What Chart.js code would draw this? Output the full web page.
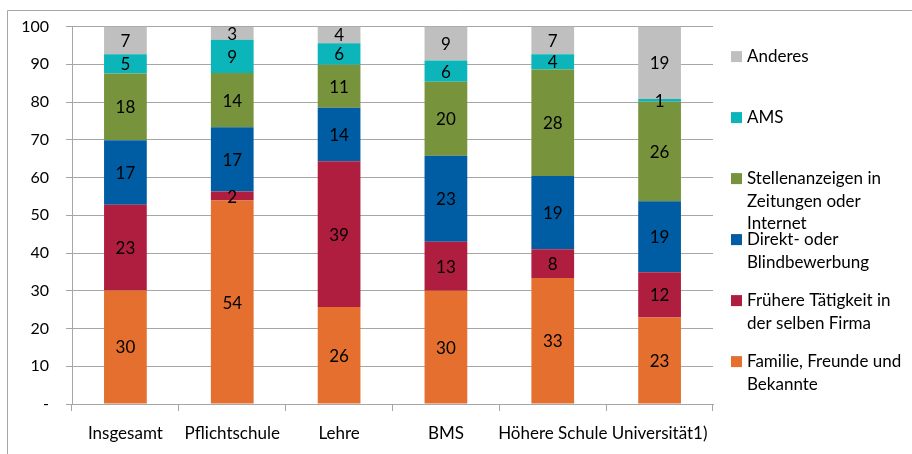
<!DOCTYPE html>
<html>
<head>
<meta charset="utf-8">
<script src="https://cdn.jsdelivr.net/npm/chart.js@4.4.0/dist/chart.umd.min.js"></script>
<style>
  html, body { margin: 0; padding: 0; background: #fff; }
  #wrap { position: relative; width: 912px; height: 454px; }
</style>
</head>
<body>
<div id="wrap"><canvas id="chart" width="912" height="454"></canvas></div>
<script>
// Data (%)
const categories = ['Insgesamt', 'Pflichtschule', 'Lehre', 'BMS', 'Höhere Schule', 'Universität1)'];
const familie   = [30.1, 53.9, 25.7, 30.0, 33.4, 22.9];
const frueher   = [22.7,  2.4, 38.6, 13.0,  7.6, 12.0];
const direkt    = [17.1, 17.0, 14.2, 22.8, 19.4, 18.8];
const stellen   = [17.7, 14.4, 11.4, 19.6, 28.2, 26.4];
const ams       = [ 5.1,  8.8,  5.7,  5.6,  4.1,  0.7];
const anderes   = [ 7.3,  3.4,  4.4,  9.0,  7.3, 19.2];
const yTicks    = [0, 10, 20, 30, 40, 50, 60, 70, 80, 90, 100];

const series = [
  { label: 'Familie, Freunde und Bekannte', lines: ['Familie, Freunde und', 'Bekannte'], data: familie, color: '#E46F2E' },
  { label: 'Frühere Tätigkeit in der selben Firma', lines: ['Frühere Tätigkeit in', 'der selben Firma'], data: frueher, color: '#B01E3F' },
  { label: 'Direkt- oder Blindbewerbung', lines: ['Direkt- oder', 'Blindbewerbung'], data: direkt, color: '#005DA3' },
  { label: 'Stellenanzeigen in Zeitungen oder Internet', lines: ['Stellenanzeigen in', 'Zeitungen oder', 'Internet'], data: stellen, color: '#77933C' },
  { label: 'AMS', lines: ['AMS'], data: ams, color: '#0BB5BA' },
  { label: 'Anderes', lines: ['Anderes'], data: anderes, color: '#BFBFBF' }
];

const FONT = 'Lato, "Open Sans", sans-serif';
const GRID = '#a6a6a6';

// outer frame (top + left edge like the source)
const framePlugin = {
  id: 'frame',
  beforeDraw(chart) {
    const ctx = chart.ctx;
    ctx.save();
    ctx.strokeStyle = GRID;
    ctx.lineWidth = 1;
    ctx.beginPath();
    ctx.moveTo(7.5, chart.height);
    ctx.lineTo(7.5, 10.5);
    ctx.lineTo(chart.width, 10.5);
    ctx.stroke();
    ctx.restore();
  }
};

// value labels centred in each segment
const valuePlugin = {
  id: 'values',
  afterDatasetsDraw(chart) {
    const ctx = chart.ctx;
    ctx.save();
    ctx.font = '17px ' + FONT;
    ctx.fillStyle = '#000';
    ctx.textAlign = 'center';
    ctx.textBaseline = 'middle';
    chart.data.datasets.forEach((ds, i) => {
      chart.getDatasetMeta(i).data.forEach((bar, j) => {
        const p = bar.getProps(['x', 'y', 'base'], true);
        ctx.fillText(String(Math.round(ds.data[j])), p.x, (p.y + p.base) / 2 + 1);
      });
    });
    ctx.restore();
  }
};

// legend on the right, top item = last dataset
const legendPlugin = {
  id: 'sideLegend',
  afterDraw(chart) {
    const ctx = chart.ctx;
    const area = chart.chartArea;
    const x0 = area.right + 18;
    ctx.save();
    ctx.font = '17px ' + FONT;
    ctx.textBaseline = 'middle';
    ctx.textAlign = 'left';
    const items = series.slice().reverse();
    items.forEach((s, i) => {
      const y = area.top + 30 + i * 61;
      ctx.fillStyle = s.color;
      ctx.fillRect(x0, y - 5.5, 11, 11);
      ctx.fillStyle = '#000';
      s.lines.forEach((ln, k) => ctx.fillText(ln, x0 + 16, y + k * 22.5));
    });
    ctx.restore();
  }
};

new Chart(document.getElementById('chart').getContext('2d'), {
  type: 'bar',
  data: {
    labels: categories,
    datasets: series.map(s => ({
      label: s.label,
      data: s.data,
      backgroundColor: s.color,
      borderWidth: 0,
      barPercentage: 0.4,
      categoryPercentage: 1
    }))
  },
  options: {
    responsive: false,
    animation: false,
    devicePixelRatio: 1,
    layout: { padding: { top: 26, right: 199, left: 0, bottom: 0 } },
    plugins: { legend: { display: false }, tooltip: { enabled: false } },
    scales: {
      x: {
        stacked: true,
        afterFit: s => { s.height = 50; },
        grid: { drawOnChartArea: false, drawTicks: true, tickLength: 7, color: GRID, offset: true },
        border: { color: GRID },
        ticks: { color: '#000', font: { family: FONT, size: 17 }, padding: 12, maxRotation: 0, autoSkip: false }
      },
      y: {
        stacked: true,
        min: 0, max: 100,
        afterFit: s => { s.width = 72; },
        afterBuildTicks: s => { s.ticks = yTicks.map(v => ({ value: v })); },
        grid: { color: GRID, tickLength: 6 },
        border: { color: GRID },
        ticks: {
          color: '#000', font: { family: FONT, size: 16 }, padding: 17,
          callback: v => v === 0 ? '-' : v
        }
      }
    }
  },
  plugins: [framePlugin, valuePlugin, legendPlugin]
});
</script>
</body>
</html>
